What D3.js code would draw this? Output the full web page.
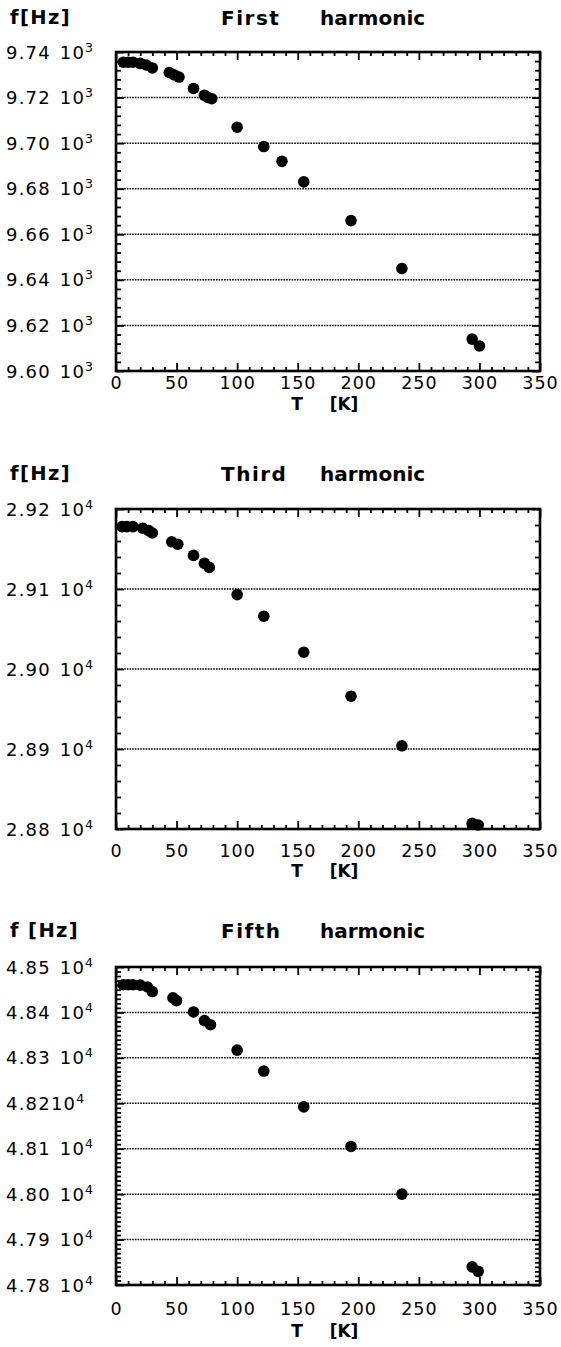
<!DOCTYPE html>
<html><head><meta charset="utf-8">
<script src="https://cdn.jsdelivr.net/npm/d3@7"></script>
<style>
body{margin:0;background:#fff}
svg{display:block}
text{font-family:"DejaVu Sans",sans-serif;fill:#000;white-space:pre}
</style>
</head><body>
<svg id="c" width="561" height="1347"></svg>
<script>
// ---------- data ----------
const xTicks = [0, 50, 100, 150, 200, 250, 300, 350];
const xLabels = ["0", "50", "100", "150", "200", "250", "300", "350"];

// First harmonic
const T1 = [6, 10, 14, 20, 25, 30, 44, 48, 52, 64, 73, 76, 79, 100, 122, 137, 155, 194, 236, 294, 300];
const F1 = [9735.5, 9735.5, 9735.5, 9735, 9734.3, 9733, 9731, 9730, 9729, 9724, 9721, 9720, 9719.5, 9707, 9698.5, 9692, 9683, 9666, 9645, 9614, 9611];
const yTicks1 = [9600, 9620, 9640, 9660, 9680, 9700, 9720, 9740];
const yLabels1 = ["9.60 10", "9.62 10", "9.64 10", "9.66 10", "9.68 10", "9.70 10", "9.72 10", "9.74 10"];
const yExp1 = "3";

// Third harmonic
const T2 = [5, 9, 14, 22, 27, 30, 46, 51, 64, 73, 77, 100, 122, 155, 194, 236, 294, 299];
const F2 = [29178, 29178, 29178, 29176, 29173, 29170, 29159, 29156, 29142, 29132, 29127, 29093, 29066, 29021, 28966, 28904, 28807, 28805];
const yTicks2 = [28800, 28900, 29000, 29100, 29200];
const yLabels2 = ["2.88 10", "2.89 10", "2.90 10", "2.91 10", "2.92 10"];
const yExp2 = "4";

// Fifth harmonic
const T3 = [6, 10, 14, 20, 26, 30, 47, 50, 64, 73, 78, 100, 122, 155, 194, 236, 294, 299];
const F3 = [48461, 48461, 48461, 48460, 48456, 48446, 48432, 48426, 48401, 48382, 48373, 48317, 48271, 48192, 48105, 48000, 47840, 47830];
const yTicks3 = [47800, 47900, 48000, 48100, 48200, 48300, 48400, 48500];
const yLabels3 = ["4.78 10", "4.79 10", "4.80 10", "4.81 10", "4.8210", "4.83 10", "4.84 10", "4.85 10"];
const yExp3 = "4";

const titles = [["First", "harmonic"], ["Third", "harmonic"], ["Fifth", "harmonic"]];
const yTitles = ["f[Hz]", "f[Hz]", "f [Hz]"];
const xTitle = ["T", "[K]"];

// ---------- layout ----------
const L = 116, R = 540;
const panels = [
  {top: 52, bottom: 371, minor: 4, T: T1, F: F1, yt: yTicks1, yl: yLabels1, ye: yExp1, tb: 25, xb: 389, kb: 410},
  {top: 509, bottom: 829, minor: 20, T: T2, F: F2, yt: yTicks2, yl: yLabels2, ye: yExp2, tb: 481, xb: 857, kb: 877},
  {top: 967, bottom: 1285, minor: 10, T: T3, F: F3, yt: yTicks3, yl: yLabels3, ye: yExp3, tb: 938, xb: 1315, kb: 1337}
];

const svg = d3.select("#c");

panels.forEach((p, i) => {
  const x = d3.scaleLinear().domain([0, 350]).range([L, R]);
  const y = d3.scaleLinear().domain([p.yt[0], p.yt[p.yt.length - 1]]).range([p.bottom, p.top]);
  const g = svg.append("g");

  // gridlines (dotted)
  g.selectAll("line.grid").data(p.yt.slice(1, -1)).enter().append("line")
    .attr("x1", L).attr("x2", R)
    .attr("y1", d => y(d)).attr("y2", d => y(d))
    .attr("stroke", "#000").attr("stroke-width", 1.5)
    .attr("stroke-dasharray", "1.6,1.1");

  // x ticks (inward) bottom & top
  const xMinor = d3.range(0, 351, 10);
  const gb = g.append("g").attr("transform", `translate(0,${p.bottom})`)
    .call(d3.axisBottom(x).tickValues(xMinor).tickFormat("").tickSize(0));
  gb.select(".domain").remove();
  gb.selectAll(".tick line").attr("y2", d => d % 50 === 0 ? -8 : -4)
    .attr("stroke", "#000").attr("stroke-width", 1.8);
  const gt = g.append("g").attr("transform", `translate(0,${p.top})`)
    .call(d3.axisTop(x).tickValues(xMinor).tickFormat("").tickSize(0));
  gt.select(".domain").remove();
  gt.selectAll(".tick line").attr("y2", d => d % 50 === 0 ? 8 : 4)
    .attr("stroke", "#000").attr("stroke-width", 1.8);

  // y ticks (inward) left & right
  const y0 = p.yt[0], y1 = p.yt[p.yt.length - 1];
  const yMinor = d3.range(y0, y1 + p.minor / 2, p.minor);
  const isMajor = d => p.yt.some(t => Math.abs(t - d) < 1e-6);
  const gl = g.append("g").attr("transform", `translate(${L},0)`)
    .call(d3.axisLeft(y).tickValues(yMinor).tickFormat("").tickSize(0));
  gl.select(".domain").remove();
  gl.selectAll(".tick line").attr("x2", d => isMajor(d) ? 8 : 5)
    .attr("stroke", "#000").attr("stroke-width", 1.8);
  const gr = g.append("g").attr("transform", `translate(${R},0)`)
    .call(d3.axisRight(y).tickValues(yMinor).tickFormat("").tickSize(0));
  gr.select(".domain").remove();
  gr.selectAll(".tick line").attr("x2", d => isMajor(d) ? -8 : -5)
    .attr("stroke", "#000").attr("stroke-width", 1.8);

  // frame
  g.append("rect").attr("x", L).attr("y", p.top)
    .attr("width", R - L).attr("height", p.bottom - p.top)
    .attr("fill", "none").attr("stroke", "#000").attr("stroke-width", 2.6);

  // points
  g.selectAll("circle").data(p.T.map((t, k) => [t, p.F[k]])).enter().append("circle")
    .attr("cx", d => x(d[0])).attr("cy", d => y(d[1])).attr("r", 5.8)
    .attr("fill", "#000");

  // x tick labels
  g.selectAll("text.xl").data(xTicks).enter().append("text")
    .attr("x", d => x(d) + 0.5).attr("y", p.xb)
    .attr("text-anchor", "middle").attr("font-size", 17.5)
    .attr("letter-spacing", 1)
    .text((d, k) => xLabels[k]);

  // x title
  g.append("text").attr("x", 297).attr("y", p.kb).attr("text-anchor", "middle")
    .attr("font-size", 17).attr("font-weight", "bold").text(xTitle[0]);
  g.append("text").attr("x", 344).attr("y", p.kb).attr("text-anchor", "middle")
    .attr("font-size", 17).attr("font-weight", "bold").text(xTitle[1]);

  // y tick labels
  p.yt.forEach((t, k) => {
    const tx = g.append("text").attr("x", 6).attr("y", y(t) + 6.5)
      .attr("font-size", 18).attr("letter-spacing", 1.2).attr("word-spacing", 2);
    tx.append("tspan").text(p.yl[k]);
    tx.append("tspan").attr("dy", -7).attr("font-size", 12.5).attr("letter-spacing", 0).text(p.ye);
  });

  // y title
  g.append("text").attr("x", 10).attr("y", p.tb - 1)
    .attr("font-size", 19.5).attr("font-weight", "bold").attr("letter-spacing", 1.4)
    .text(yTitles[i]);

  // panel title
  g.append("text").attr("x", 221).attr("y", p.tb)
    .attr("font-size", 20).attr("font-weight", "bold").attr("letter-spacing", 1.5)
    .text(titles[i][0]);
  g.append("text").attr("x", 320).attr("y", p.tb)
    .attr("font-size", 20).attr("font-weight", "bold")
    .text(titles[i][1]);
});
</script>
</body></html>
